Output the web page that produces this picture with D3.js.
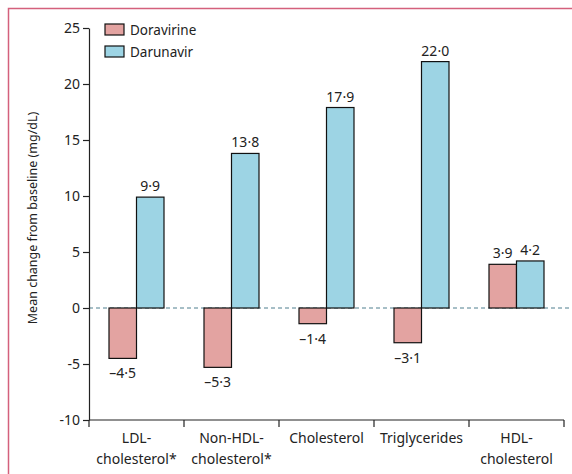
<!DOCTYPE html>
<html>
<head>
<meta charset="utf-8">
<script src="https://cdn.jsdelivr.net/npm/d3@7"></script>
<style>
body { margin:0; background:#fff; }
text { font-family:"Noto Sans", sans-serif; fill:#222; }
</style>
</head>
<body>
<svg id="chart"></svg>
<script>
// data
let categories = [["LDL-","cholesterol*"],["Non-HDL-","cholesterol*"],["Cholesterol"],["Triglycerides"],["HDL-","cholesterol"]]
let series = ["Doravirine","Darunavir"]
let doravirine = [-4.5,-5.3,-1.4,-3.1,3.9]
let darunavir = [9.9,13.8,17.9,22.0,4.2]
let yticks = [-10,-5,0,5,10,15,20,25]
let colors = ["#e3a3a1","#9dd4e4"]

let w = 572, h = 474
let leftmargin = 89, rightx = 564, topy = 28, bottomy = 420

let svg = d3.select("#chart").attr("width",w).attr("height",h)

// frame
svg.append("rect")
    .attr("x",8.5).attr("y",8.5)
    .attr("width",w).attr("height",h)
    .attr("fill","none").attr("stroke","#d4607c").attr("stroke-width",1.5)

let keys = categories.map(d=>d.join(" "))
let xscale = d3.scaleBand().domain(keys).range([leftmargin,rightx])
let yscale = d3.scaleLinear().domain([-10,25]).range([bottomy,topy])
let groupw = 55
let inner = d3.scaleBand().domain(series).range([0,groupw])

// zero line
svg.append("line")
    .attr("x1",leftmargin).attr("x2",w)
    .attr("y1",yscale(0)).attr("y2",yscale(0))
    .attr("stroke","#4f7f8e").attr("stroke-width",1).attr("stroke-dasharray","4,3")

let rows = keys.map((k,i)=>({key:k,label:categories[i],vals:[doravirine[i],darunavir[i]]}))

let groups = svg.selectAll("g.grp").data(rows).enter().append("g")
    .attr("class","grp")
    .attr("transform",d=>`translate(${xscale(d.key)+xscale.bandwidth()/2-groupw/2},0)`)

let fmt = v => (v<0?"\u2013":"") + Math.abs(v).toFixed(1).replace(".","\u00b7")

groups.selectAll("rect").data(d=>d.vals.map((v,j)=>({s:series[j],v:v,j:j}))).enter()
    .append("rect")
    .attr("x",d=>inner(d.s))
    .attr("width",inner.bandwidth())
    .attr("y",d=>yscale(Math.max(0,d.v)))
    .attr("height",d=>Math.abs(yscale(d.v)-yscale(0)))
    .attr("fill",d=>colors[d.j])
    .attr("stroke","#111").attr("stroke-width",1.2)

groups.selectAll("text.val").data(d=>d.vals.map((v,j)=>({s:series[j],v:v}))).enter()
    .append("text").attr("class","val")
    .attr("x",d=>inner(d.s)+inner.bandwidth()/2)
    .attr("y",d=>d.v>=0 ? yscale(d.v)-6 : yscale(d.v)+20)
    .attr("text-anchor","middle")
    .style("font-size","14px")
    .text(d=>fmt(d.v))

// y axis
let yaxis = d3.axisLeft(yscale).tickValues(yticks).tickSize(6).tickSizeOuter(0).tickFormat(d=>String(d))
let yaxisg = svg.append("g").attr("transform",`translate(${leftmargin},0)`).call(yaxis)
yaxisg.selectAll("text").style("font-size","14px").style("font-family","'Noto Sans', sans-serif").attr("fill","#222")
yaxisg.selectAll("line,path").attr("stroke","#222").attr("stroke-width",1.2)

// x axis
svg.append("line")
    .attr("x1",leftmargin).attr("x2",rightx)
    .attr("y1",bottomy).attr("y2",bottomy)
    .attr("stroke","#222").attr("stroke-width",1.2)
let bounds = keys.map(k=>xscale(k)).concat([xscale(keys[keys.length-1])+xscale.bandwidth()])
svg.selectAll("line.xt").data(bounds).enter().append("line").attr("class","xt")
    .attr("x1",d=>d).attr("x2",d=>d)
    .attr("y1",bottomy).attr("y2",bottomy+7)
    .attr("stroke","#222").attr("stroke-width",1.2)

let xl = svg.selectAll("text.cat").data(rows).enter().append("text").attr("class","cat")
    .attr("x",d=>xscale(d.key)+xscale.bandwidth()/2)
    .attr("y",bottomy+23)
    .attr("text-anchor","middle")
    .style("font-size","14px")
xl.selectAll("tspan").data(d=>d.label).enter().append("tspan")
    .attr("x",function(){return this.parentNode.getAttribute("x")})
    .attr("dy",(d,i)=>i==0?0:21)
    .text(d=>d)

// y label
svg.append("text")
    .attr("transform",`translate(37,${(topy+bottomy)/2-6}) rotate(-90)`)
    .attr("text-anchor","middle")
    .style("font-size","12.5px")
    .text("Mean change from baseline (mg/dL)")

// legend
let leg = svg.selectAll("g.leg").data(series).enter().append("g").attr("class","leg")
    .attr("transform",(d,i)=>`translate(105,${24+i*22})`)
leg.append("rect").attr("width",19).attr("height",11)
    .attr("fill",(d,i)=>colors[i]).attr("stroke","#111").attr("stroke-width",1.2)
leg.append("text").attr("x",25).attr("y",11).style("font-size","13.5px").text(d=>d)
</script>
</body>
</html>
